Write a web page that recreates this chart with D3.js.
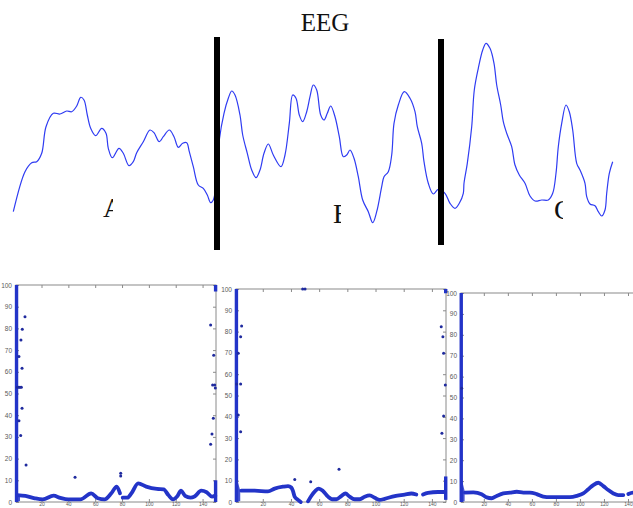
<!DOCTYPE html>
<html>
<head>
<meta charset="utf-8">
<script src="https://cdn.jsdelivr.net/npm/d3@7"></script>
<style>
  html, body { margin: 0; padding: 0; background: #fff; }
  svg { display: block; }
</style>
</head>
<body>
<svg id="chart" width="633" height="508"></svg>
<script>
// ---------------- DATA ----------------
const title = "EEG";
// EEG trace: sample index and amplitude (arbitrary units)
const eegT = [1.3,13,19.7,24.7,29.7,34,41.3,48,54.7,59.7,64.7,68.7,72,75.3,78.7,83.7,89.7,94,96.3,100.3,107,111.3,117,121.3,124.7,131.3,138,142,147.3,151.3,157.3,162,166.3,170.7,174.7,177.3,181.3,186.3,191.3,195.3,198.7,201.3,204,207.3,212,216.3,219.7,223,228,230.7,235.3,239.7,244,248,252,256.3,261.3,269,273,277.3,280.7,284,287.3,290.7,294.7,298,301.3,304.7,308.7,312,315.3,318.7,323,327.3,331.3,334.7,338,342,346.3,350.7,356.3,360.7,364.7,369.7,372,376.3,379.7,382,386.3,392.3,398,403,405.3,409.7,412,416.3,421.3,426.3,433,438,443,447.3,451.3,452,455.3,459.7,462.3,466.3,470.7,474,478,482,484.7,488.7,491.3,494.7,499.7,503,507.3,513,518,523,529.7,536.3,540.7,544,546.3,549.7,554,557.3,560.7,564.7,568,573,574.7,578,583,586.3,589.7,593,594.7,597.3,600.7];
const eegAmp = [-81.7,-41.7,-32.7,-31.7,-23.3,3.3,16.7,16,19,18.3,24,32.7,30,15,1.7,-5.7,1.7,-3.3,-18.3,-27.7,-18.3,-23.3,-35.7,-31.7,-22.7,-11.7,0,-2.7,-11.7,-6.7,0,-6.7,-17.3,-13.3,-12.7,-21.7,-36.7,-55,-58.3,-65,-72.7,-70,-55,-10,16.7,31.7,39,35,15,-5,-23.3,-40,-47.7,-40,-23.3,-14,-25,-36.7,-25,6.7,35,31.7,15,8.3,18.3,33.3,45,40,15,10,16.7,24,13.3,-6.7,-26.7,-25,-20,-28.3,-46.7,-70,-81.7,-92.7,-81.7,-56.7,-46.7,-41.7,-25,6.7,25,38.3,31.7,18.3,3.3,-13.3,-31.7,-53.3,-64,-59.3,-63.3,-73.3,-78.3,-73.3,-63.3,-53.3,-33.3,3.3,40,61.7,80,86.7,81.7,66.7,45,25,8.3,-3.3,-16.7,-35,-45,-53.3,-66,-71,-70,-70,-63.3,-43.3,-16.7,6.7,25,18.3,0,-33.3,-40,-53.3,-66.7,-74,-75.7,-81.7,-86,-80,-63.3,-43.3,-31.7];
const dividerT = [205, 429];
const dividerTop = [93, 91];
const dividerBottom = [-120, -115];
const segLabels = ["A", "B", "C"];
const segLabelT = [91, 321, 542];
const segLabelAmp = [-87, -93, -89];

// Lower panels (x: 1..150, y: 0..100)
const yTicks = [0,10,20,30,40,50,60,70,80,90,100];
const xTicks = [20,40,60,80,100,120,140];

// Panel 1
const p1CurveX = [2,8,15,21,29,34,40,49,57,62,67,72,76,78.5,null,80.5,84,87,92,98,106,111,114.5,118,121,124,127,131,134,139,143,147,149.5];
const p1CurveY = [3.2,2.8,1.7,1.2,2.9,1.9,1.2,1.2,4.0,1.7,1.2,4.0,7.1,4.0,null,2.0,2.0,4.0,8.6,7.1,6.0,5.8,3.2,1.2,2.5,5.2,2.8,2.0,2.5,5.2,4.5,2.5,3.0];
const p1DotX = [7.7,5.7,4.7,3.2,5.5,2,3,4,5,5.5,3.2,4.5,8.5,45,79,79,146,148.3,147.5,149,149.5,148,147,146];
const p1DotY = [85.4,79.6,74.7,67,61.6,52.9,52.9,52.9,52.9,43.2,37.5,30.6,17.1,11.4,12,13.3,81.6,67.6,53.9,53.9,52.5,38.6,31.3,26.6];
const p1ColX = [1.4, 149.7, 149.7];
const p1ColLo = [0, 0, 97];
const p1ColHi = [100, 10, 100];
const p1BurstHi = 5;

// Panel 2
const p2CurveX = [4.8,14.2,23.7,28.4,34.3,37.9,40.2,41.4,42.6,45,46.9,null,52.1,54.4,57.3,59.7,62.7,66.3,69.1,72.2,75.7,78.6,81.6,85.2,88.8,92.3,95.9,99.4,103,106.5,113.6,120.7,125.4,128.9,null,133.7,137.2,144.3,149];
const p2CurveY = [5.3,5.3,5.0,6.3,7.2,7.5,6.8,5.2,2.5,1.0,0,null,0.3,2.8,5.2,6.3,5.2,2.5,1.3,1.3,2.8,4.0,2.5,1.3,1.3,2.5,3.1,2.0,1.0,1.5,2.8,3.5,4.0,3.5,null,3.5,4.3,4.7,4.7];
const p2DotX = [42.7,54,74.1,5,4.3,2.6,4.3,1.5,2.6,4.3,48.3,50,146.6,147.8,148.3,149.5,148.3,147.1];
const p2DotY = [10.6,9.5,15.4,82.6,77.6,69.8,55.4,55.4,40.8,33,100,100,82.3,77.6,69.8,54.9,40.4,32.3];
const p2ColX = [1.3, 149.8, 149.8];
const p2ColLo = [0, 1, 98];
const p2ColHi = [100, 12, 100];
const p2BurstHi = 12;

// Panel 3
const p3CurveX = [4.3,11.3,18.2,22.4,26.5,30.7,36.2,41.8,47.4,52.9,58.4,64,69.5,75.1,91.7,97.3,102.8,107,111.1,115.3,119.5,123.6,127.8,131.9,136.1,null,140.3,144.2,150];
const p3CurveY = [4.5,4.6,3.7,2.2,1.8,2.9,4.1,4.5,4.9,4.5,4.5,3.8,2.6,2.3,2.3,2.9,4.1,6.1,8.1,9.2,7.6,5.7,4.1,3.3,3.3,null,3.8,4.5,4.5];
const p3DotX = [1.6];
const p3DotY = [54.4];
const p3ColX = [1.2];
const p3ColLo = [0];
const p3ColHi = [100];
const p3BurstHi = 12;

// ---------------- DRAW ----------------
const svg = d3.select("#chart");
const EEG_BLUE = "#2f3cf2";
const DOT_BLUE = "#2334c8";

// Title
svg.append("text")
  .attr("x", 325).attr("y", 31)
  .attr("text-anchor", "middle")
  .attr("font-family", "'Liberation Serif', 'Times New Roman', serif")
  .attr("font-size", 25)
  .attr("fill", "#111")
  .text(title);

// EEG scales
const ex = d3.scaleLinear().domain([0, 600]).range([12, 612]);
const ey = d3.scaleLinear().domain([-100, 100]).range([230, 30]);

const eegData = eegT.map((t, i) => ({t, a: eegAmp[i]}));

// segment labels (clipped, partially hidden)
const clipW = [10, 8, 9];
const defs = svg.append("defs");
segLabels.forEach((lab, i) => {
  const x0 = ex(segLabelT[i]);
  defs.append("clipPath").attr("id", "lc" + i)
    .append("rect").attr("x", x0 - 2).attr("y", 150).attr("width", clipW[i] + 2).attr("height", 100);
  svg.append("text")
    .attr("clip-path", `url(#lc${i})`)
    .attr("x", x0).attr("y", ey(segLabelAmp[i]))
    .attr("font-family", "'Liberation Serif', 'Times New Roman', serif")
    .attr("font-size", 28)
    .attr("fill", "#111")
    .text(lab);
});

svg.append("path")
  .datum(eegData)
  .attr("fill", "none")
  .attr("stroke", EEG_BLUE)
  .attr("stroke-width", 1.2)
  .attr("stroke-linejoin", "round")
  .attr("d", d3.line().x(d => ex(d.t)).y(d => ey(d.a)).curve(d3.curveCatmullRom.alpha(0.5)));

dividerT.forEach((t, i) => {
  svg.append("line")
    .attr("x1", ex(t)).attr("x2", ex(t))
    .attr("y1", ey(dividerTop[i])).attr("y2", ey(dividerBottom[i]))
    .attr("stroke", "#000").attr("stroke-width", 6);
});

// Panels
const panels = [
  {xr: [16, 216], yr: [502, 285], cx: p1CurveX, cy: p1CurveY, dx: p1DotX, dy: p1DotY, colX: p1ColX, colLo: p1ColLo, colHi: p1ColHi, burst: p1BurstHi},
  {xr: [236, 446], yr: [502, 289], cx: p2CurveX, cy: p2CurveY, dx: p2DotX, dy: p2DotY, colX: p2ColX, colLo: p2ColLo, colHi: p2ColHi, burst: p2BurstHi},
  {xr: [461, 640], yr: [502, 293], cx: p3CurveX, cy: p3CurveY, dx: p3DotX, dy: p3DotY, colX: p3ColX, colLo: p3ColLo, colHi: p3ColHi, burst: p3BurstHi}
];

const AX = "#8a8a8a";
panels.forEach((p, pi) => {
  const x = d3.scaleLinear().domain([1, 150]).range(p.xr);
  const y = d3.scaleLinear().domain([0, 100]).range(p.yr);
  const g = svg.append("g");

  // box
  g.append("rect")
    .attr("x", p.xr[0]).attr("y", p.yr[1])
    .attr("width", p.xr[1] - p.xr[0]).attr("height", p.yr[0] - p.yr[1])
    .attr("fill", "#fff").attr("stroke", AX).attr("stroke-width", 1);

  // axes (inward ticks, MATLAB style)
  const left = d3.axisLeft(y).tickValues(yTicks).tickSize(-3).tickPadding(4);
  const right = d3.axisRight(y).tickValues(yTicks).tickSize(-3).tickFormat("");
  const bottom = d3.axisBottom(x).tickValues(xTicks).tickSize(-3).tickPadding(0.5);
  const top = d3.axisTop(x).tickValues(xTicks).tickSize(-3).tickFormat("");

  const styleAxis = sel => {
    sel.select(".domain").remove();
    sel.selectAll("line").attr("stroke", AX);
    sel.selectAll("text").attr("fill", "#5a5a5a")
      .attr("font-family", "'Liberation Sans', Arial, sans-serif");
  };
  g.append("g").attr("transform", `translate(${p.xr[0]},0)`).call(left).call(styleAxis)
    .selectAll("text").attr("font-size", 6.5);
  g.append("g").attr("transform", `translate(${p.xr[1]},0)`).call(right).call(styleAxis);
  g.append("g").attr("transform", `translate(0,${p.yr[0]})`).call(bottom).call(styleAxis)
    .selectAll("text").attr("font-size", 5).attr("dy", "0.75em");
  g.append("g").attr("transform", `translate(0,${p.yr[1]})`).call(top).call(styleAxis);

  // burst near the origin
  const burstData = [{x: 1, lo: 0, hi: p.burst}, {x: 2.5, lo: 0, hi: p.burst * 0.75}, {x: 4, lo: 0.5, hi: p.burst * 0.45}];
  g.append("path").datum(burstData)
    .attr("fill", DOT_BLUE).attr("opacity", 0.85)
    .attr("d", d3.area().x(d => x(d.x)).y0(d => y(d.lo)).y1(d => y(d.hi)).curve(d3.curveBasis));

  // dense vertical columns
  p.colX.forEach((cx, i) => {
    g.append("line")
      .attr("x1", x(cx)).attr("x2", x(cx))
      .attr("y1", y(p.colLo[i])).attr("y2", y(p.colHi[i]))
      .attr("stroke", DOT_BLUE).attr("stroke-width", 3.4);
  });

  // dense curve
  const cdata = p.cx.map((v, i) => ({x: v, y: p.cy[i]}));
  g.append("path").datum(cdata)
    .attr("fill", "none")
    .attr("stroke", DOT_BLUE)
    .attr("stroke-width", 3.8)
    .attr("stroke-linecap", "round")
    .attr("stroke-linejoin", "round")
    .attr("d", d3.line().defined(d => d.x != null).x(d => x(d.x)).y(d => y(d.y)).curve(d3.curveMonotoneX));

  // scattered points
  g.selectAll("circle.pt").data(p.dx.map((v, i) => ({x: v, y: p.dy[i]})))
    .join("circle").attr("class", "pt")
    .attr("cx", d => x(d.x)).attr("cy", d => y(d.y))
    .attr("r", 1.5).attr("fill", "#1f2a9e");
});
</script>
</body>
</html>
